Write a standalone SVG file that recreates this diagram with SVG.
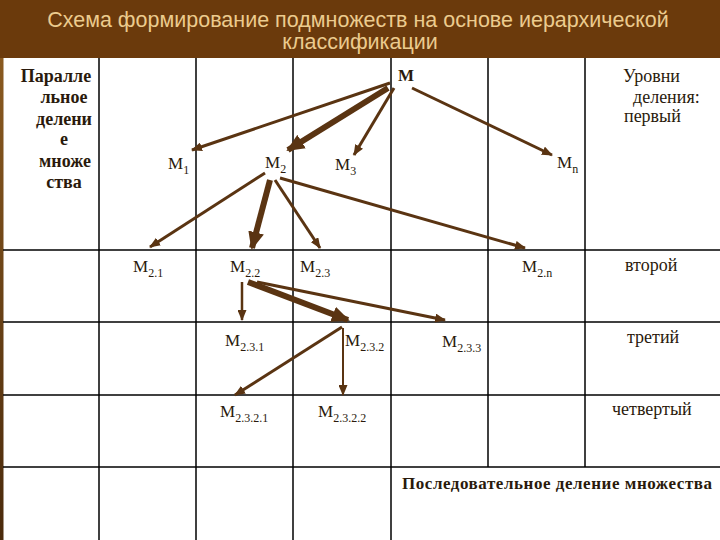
<svg xmlns="http://www.w3.org/2000/svg" width="720" height="540" viewBox="0 0 720 540">
<defs>
<marker id="ah" markerUnits="userSpaceOnUse" markerWidth="11" markerHeight="9" refX="10" refY="4.5" orient="auto"><path d="M0,0 L11,4.5 L0,9 z" fill="#5a3412"/></marker>
<marker id="ahb" markerUnits="userSpaceOnUse" markerWidth="18" markerHeight="16" refX="16" refY="8" orient="auto"><path d="M0,0 L18,8 L0,16 z" fill="#5a3412"/></marker>
<linearGradient id="lb" x1="0" y1="0" x2="0" y2="1"><stop offset="0" stop-color="#8a5a20"/><stop offset="1" stop-color="#4a2a0c"/></linearGradient>
</defs>
<style>
.title{font-family:"Liberation Sans",Arial,sans-serif;font-size:21.5px;fill:#eccb8e;text-anchor:middle}
.grid{stroke:#000;stroke-width:1.5;fill:none}
.lbl{font-family:"Liberation Serif","Times New Roman",serif;font-size:17px;fill:#2a1a0c}
.left{font-size:18px}
.bold{font-weight:bold}
.sub{font-size:12px}
.lvl{font-family:"Liberation Serif","Times New Roman",serif;font-size:18px;fill:#2a1a0c}
.a{stroke:#5a3412;stroke-width:3;fill:none;marker-end:url(#ah)}
.ab{stroke:#5a3412;stroke-width:6;fill:none;marker-end:url(#ahb)}
</style>
<rect width="720" height="540" fill="#fff"/>
<rect x="0" y="0" width="720" height="58" fill="#6b3a0c"/>
<rect x="0" y="58" width="3.5" height="482" fill="url(#lb)"/>
<text class="title" x="358" y="27">Схема формирование подмножеств на основе иерархической</text>
<text class="title" x="360" y="49">классификации</text>
<g id="grid" class="grid">
<line x1="99" y1="58" x2="99" y2="540"/>
<line x1="196" y1="58" x2="196" y2="540"/>
<line x1="293" y1="58" x2="293" y2="540"/>
<line x1="391" y1="58" x2="391" y2="540"/>
<line x1="488" y1="58" x2="488" y2="467"/>
<line x1="585" y1="58" x2="585" y2="467"/>
<line x1="3" y1="250" x2="720" y2="250"/>
<line x1="3" y1="322" x2="720" y2="322"/>
<line x1="3" y1="395" x2="720" y2="395"/>
<line x1="3" y1="467" x2="720" y2="467"/>
</g>
<g id="left-label" class="lbl bold left" text-anchor="middle">
<text x="56" y="82">Паралле</text>
<text x="64" y="103">льное</text>
<text x="64" y="125">делени</text>
<text x="64" y="145">е</text>
<text x="65" y="167">множе</text>
<text x="64" y="188">ства</text>
</g>
<g id="levels" class="lvl">
<text x="623" y="82">Уровни</text>
<text x="633" y="103">деления:</text>
<text x="624" y="122">первый</text>
<text x="625" y="271">второй</text>
<text x="627" y="343">третий</text>
<text x="612" y="415">четвертый</text>
</g>
<g id="seq-label"><text class="lbl bold" x="402" y="489" textLength="310">Последовательное деление множества</text></g>
<g id="connectors">
<line class="a" x1="390" y1="83" x2="192" y2="150"/>
<line class="ab" x1="388" y1="88" x2="288" y2="150"/>
<line class="a" x1="394" y1="88" x2="354" y2="155"/>
<line class="a" x1="412" y1="88" x2="552" y2="155"/>
<line class="a" x1="265" y1="173" x2="150" y2="247"/>
<line class="ab" x1="270" y1="180" x2="252" y2="248"/>
<line class="a" x1="275" y1="180" x2="320" y2="248"/>
<line class="a" x1="280" y1="178" x2="525" y2="248"/>
<line class="a" x1="242" y1="282" x2="242" y2="320" style="stroke-width:2.5"/>
<line class="ab" x1="248" y1="282" x2="348" y2="320"/>
<line class="a" x1="257" y1="282" x2="445" y2="320"/>
<line class="a" x1="342" y1="327" x2="235" y2="395"/>
<line class="a" x1="343" y1="328" x2="343" y2="395" style="stroke-width:2"/>
</g>
<g id="M"><text class="lbl bold" x="398" y="81" font-size="18">М</text></g>
<g id="M1"><text class="lbl" x="168" y="169">М<tspan class="sub" dy="5">1</tspan></text></g>
<g id="M2"><text class="lbl" x="265" y="168">М<tspan class="sub" dy="5">2</tspan></text></g>
<g id="M3"><text class="lbl" x="335" y="170">М<tspan class="sub" dy="5">3</tspan></text></g>
<g id="Mn"><text class="lbl" x="557" y="168">М<tspan class="sub" dy="5">n</tspan></text></g>
<g id="M2.1"><text class="lbl" x="133" y="272">М<tspan class="sub" dy="5">2.1</tspan></text></g>
<g id="M2.2"><text class="lbl" x="230" y="272">М<tspan class="sub" dy="5">2.2</tspan></text></g>
<g id="M2.3"><text class="lbl" x="300" y="272">М<tspan class="sub" dy="5">2.3</tspan></text></g>
<g id="M2.n"><text class="lbl" x="522" y="272">М<tspan class="sub" dy="5">2.n</tspan></text></g>
<g id="M2.3.1"><text class="lbl" x="225" y="346">М<tspan class="sub" dy="5">2.3.1</tspan></text></g>
<g id="M2.3.2"><text class="lbl" x="345" y="346">М<tspan class="sub" dy="5">2.3.2</tspan></text></g>
<g id="M2.3.3"><text class="lbl" x="442" y="347">М<tspan class="sub" dy="5">2.3.3</tspan></text></g>
<g id="M2.3.2.1"><text class="lbl" x="220" y="417">М<tspan class="sub" dy="5">2.3.2.1</tspan></text></g>
<g id="M2.3.2.2"><text class="lbl" x="318" y="417">М<tspan class="sub" dy="5">2.3.2.2</tspan></text></g>
</svg>
